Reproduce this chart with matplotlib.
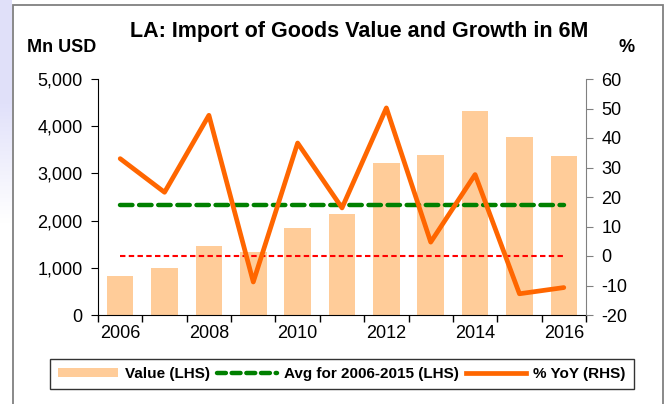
import numpy as np
import matplotlib
matplotlib.use("Agg")
import matplotlib.pyplot as plt
from matplotlib.patches import Patch, Rectangle
from matplotlib.lines import Line2D

plt.rcParams['font.family'] = ['Liberation Sans', 'DejaVu Sans']
plt.rcParams['axes.unicode_minus'] = False

# data
years = [2006, 2007, 2008, 2009, 2010, 2011, 2012, 2013, 2014, 2015, 2016]
values = [820, 990, 1460, 1330, 1850, 2150, 3220, 3390, 4315, 3765, 3360]
yoy = [33.0, 21.6, 47.7, -8.8, 38.3, 16.3, 50.2, 4.7, 27.6, -12.8, -10.7]
avg_value = 2330
left_ticks = [0, 1000, 2000, 3000, 4000, 5000]
right_ticks = [-20, -10, 0, 10, 20, 30, 40, 50, 60]

bar_col = '#FFCC99'
line_col = '#FF6600'
avg_col = '#008000'
zero_col = '#FF0000'

W, H = 667, 404
fig = plt.figure(figsize=(W / 100, H / 100), dpi=100)

# lavender strip on the left edge, fading in from the top
strip = fig.add_axes([0, 0, 12 / W, 1])
grad = np.linspace(0, 1, 200).reshape(-1, 1)
grad = np.clip((grad - 0.25) / 0.3, 0, 1)
white = np.array([1, 1, 1])
lav = np.array([0.88, 0.88, 0.98])
img = white[None, None, :] * grad[:, :, None] + lav[None, None, :] * (1 - grad[:, :, None])
strip.imshow(img, aspect='auto', extent=[0, 1, 0, 1])
strip.axis('off')

# outer frame
fig.patches.append(Rectangle((13 / W, -0.01), 650 / W, 1 - 5 / H + 0.01,
                             transform=fig.transFigure, fill=False,
                             edgecolor='#808080', linewidth=1.3))

ax = fig.add_axes([98 / W, (H - 315) / H, 488 / W, 236 / H])
x = np.arange(len(years))

ax.bar(x, values, width=0.6, color=bar_col, zorder=1)
ax.plot([x[0], x[-1]], [avg_value, avg_value], color=avg_col, lw=3.2,
        dashes=(2.8, 1.5), dash_capstyle='round', zorder=2)
ax.set_xlim(-0.5, len(years) - 0.5)
ax.set_ylim(0, 5000)
ax.set_yticks(left_ticks)
ax.set_yticklabels([f'{v:,}' for v in left_ticks])
ax.set_xticks(x[::2])
ax.set_xticklabels([str(y) for y in years[::2]])
ax.set_xticks(np.arange(-0.5, len(years)), minor=True)
ax.tick_params(axis='x', which='major', length=0, labelsize=13, pad=7)
ax.tick_params(axis='x', which='minor', length=5, direction='out', width=1)
ax.tick_params(axis='y', length=5, direction='out', labelsize=13, pad=6)
for s in ['top', 'right']:
    ax.spines[s].set_visible(False)

ax2 = ax.twinx()
ax2.plot([x[0], x[-1]], [0, 0], color=zero_col, lw=1.5, dashes=(2.6, 1.6))
ax2.plot(x, yoy, color=line_col, lw=3.4, solid_joinstyle='round',
         solid_capstyle='round')
ax2.set_ylim(-20, 60)
ax2.set_yticks(right_ticks)
ax2.tick_params(axis='y', length=5, direction='out', labelsize=13,
                color='#808080', pad=6)
for s in ['top', 'left', 'bottom']:
    ax2.spines[s].set_visible(False)
ax2.spines['right'].set_color('#808080')

fig.text(359 / W, 1 - 31 / H, 'LA: Import of Goods Value and Growth in 6M',
         ha='center', va='center', fontsize=15.5, fontweight='bold')
fig.text(27 / W, 1 - 48 / H, 'Mn USD', ha='left', va='center',
         fontsize=13, fontweight='bold')
fig.text(627 / W, 1 - 48 / H, '%', ha='center', va='center',
         fontsize=13, fontweight='bold')

handles = [
    Patch(facecolor=bar_col, edgecolor='none'),
    Line2D([], [], color=avg_col, lw=3.2, dashes=(2.0, 1.3), dash_capstyle='round'),
    Line2D([], [], color=line_col, lw=3.4),
]
labels = ['Value (LHS)', 'Avg for 2006-2015 (LHS)', '% YoY (RHS)']
leg = fig.legend(handles, labels, loc='center', ncol=3,
                 bbox_to_anchor=(342 / W, 1 - 374 / H),
                 prop={'weight': 'bold', 'size': 11},
                 frameon=True, fancybox=False, edgecolor='black',
                 handlelength=3.9, handleheight=0.5, handletextpad=0.5,
                 columnspacing=0.45, borderpad=0.55, borderaxespad=0)
leg.get_frame().set_linewidth(1)

fig.savefig('out.png', dpi=100)
